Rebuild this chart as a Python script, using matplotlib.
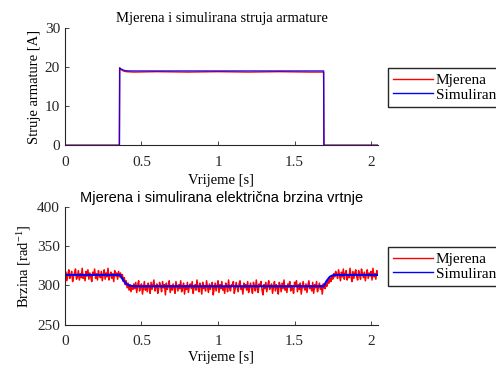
import matplotlib
matplotlib.use('Agg')

import numpy as np
import matplotlib.pyplot as plt

params = {
    "font.family": ["Liberation Serif", "DejaVu Serif"],
    "font.size": 10.5,
    "xtick.labelsize": 11,
    "ytick.labelsize": 11,
    "mathtext.fontset": "custom",
    "mathtext.rm": "Liberation Serif",
    "mathtext.it": "Liberation Serif:italic",
    "axes.linewidth": 0.8,
    "axes.edgecolor": "#262626",
    "xtick.direction": "in",
    "ytick.direction": "in",
    "xtick.color": "#262626",
    "ytick.color": "#262626",
    "xtick.major.size": 3,
    "ytick.major.size": 3,
    "xtick.major.width": 0.6,
    "ytick.major.width": 0.6,
    "xtick.major.pad": 7.5,
    "ytick.major.pad": 3.5,
}
plt.rcParams.update(params)

# armature current [A]
cur_t = [0, 0.355, 0.357, 0.365, 0.38, 0.40, 0.45, 0.6, 0.8, 1.0, 1.2, 1.4, 1.6, 1.69, 1.692, 2.05]
cur_meas = [0, 0, 19.8, 19.4, 19.0, 18.8, 18.7, 18.8, 18.7, 18.8, 18.7, 18.8, 18.7, 18.7, 0, 0]
cur_sim_t = [0, 0.356, 0.358, 0.37, 0.39, 0.42, 1.69, 1.692, 2.05]
cur_sim = [0, 0, 19.7, 19.4, 19.1, 19.0, 19.0, 0, 0]

# electrical speed, measured (sampled every 6.25 ms)
speed_meas = [
    310, 317, 306, 314, 320, 309, 313, 318, 305, 312, 316, 321, 308, 311, 319, 307, 315, 310, 322, 309,
    314, 306, 318, 312, 320, 308, 316, 311, 305, 317, 313, 321, 309, 315, 307, 319, 312, 310, 318, 306,
    314, 320, 308, 316, 311, 322, 307, 313, 317, 309, 315, 305, 319, 312, 316, 308, 318, 311,
    316, 309, 314, 305, 310, 301, 306, 297, 303, 294, 301, 292, 299, 295, 302,
    296, 304, 291, 300, 306, 293, 299, 302, 289, 297, 305, 294, 300, 292, 303, 298, 290, 304, 295, 301,
    307, 293, 298, 302, 290, 296, 304, 299, 292, 305, 297, 301, 288, 303, 295, 299, 306, 291, 300, 294,
    302, 297, 290, 305, 299, 293, 301, 296, 306, 292, 298, 303, 289, 300, 295, 304, 291, 299, 302, 296,
    305, 290, 298, 301, 294, 307, 297, 292, 303, 299, 289, 304, 296, 300, 293, 306, 298, 291, 302, 295,
    300, 304, 288, 297, 303, 293, 299, 306, 291, 301, 296, 305, 294, 298, 290, 303, 300, 292, 307, 297,
    293, 301, 299, 305, 290, 296, 304, 298, 292, 302, 306, 295, 299, 289, 303, 297, 301, 294, 305, 291,
    298, 303, 296, 290, 304, 300, 293, 307, 297, 291, 302, 299, 305, 294, 288, 301, 296, 304, 292, 300,
    306, 295, 299, 302, 290, 298, 305, 293, 301, 297, 289, 304, 300, 292, 303, 296, 307, 294, 299, 291,
    302, 298, 305, 293, 300, 296, 290, 304, 299, 306, 292, 301, 295, 303, 289, 298, 305, 297, 294, 302,
    291, 300, 306, 296, 299, 293, 304, 290, 301, 297, 305, 292, 298, 303, 295, 300, 289, 302, 297,
    296, 302, 299, 306, 303, 309, 305, 312, 308, 315, 311, 318, 314,
    309, 320, 313, 306, 317, 311, 321, 308, 315, 319, 307, 314, 310, 322, 312, 305, 318, 309, 316, 320,
    311, 307, 319, 313, 308, 321, 315, 310, 317, 306, 314, 320, 309, 316, 312, 318, 307, 322, 311, 315,
    308, 319, 313, 317,
]
speed_t = np.arange(len(speed_meas)) * 0.00625

speed_sim_t = [0, 0.36, 0.38, 0.40, 0.42, 0.45, 1.69, 1.71, 1.73, 1.75, 1.78, 2.05]
speed_sim = [313.5, 313.5, 307, 302, 300, 299, 299, 306, 311, 313, 313.5, 313.5]

xticks = [0, 0.5, 1, 1.5, 2]
xticklabels = ['0', '0.5', '1', '1.5', '2']

fig = plt.figure(figsize=(4.96, 3.66), dpi=100)

legend_kw = dict(loc='upper left', bbox_transform=fig.transFigure, fontsize=11,
                 fancybox=False, edgecolor='#262626', framealpha=1, handlelength=2.6,
                 borderpad=0.35, labelspacing=0.05, handletextpad=0.2, borderaxespad=0)

# --- current ---
ax1 = fig.add_axes([0.131, 0.603, 0.631, 0.321])
ax1.plot(cur_t, cur_meas, color='#ff0000', lw=1.0, label='Mjerena')
ax1.plot(cur_sim_t, cur_sim, color='#0000ff', lw=1.0, alpha=0.85, label='Simulirana')
ax1.set_xlim(0, 2.045)
ax1.set_ylim(0, 30)
ax1.set_yticks([0, 10, 20, 30])
ax1.set_xticks(xticks)
ax1.set_xticklabels(xticklabels)
ax1.set_title('Mjerena i simulirana struja armature', fontsize=10.5, pad=4)
ax1.set_xlabel('Vrijeme [s]', labelpad=3.5)
ax1.set_ylabel('Struje armature [A]', labelpad=3)
for s in ['top', 'right']:
    ax1.spines[s].set_visible(False)
leg = ax1.legend(bbox_to_anchor=(0.782, 0.814), **legend_kw)
for ln in leg.get_lines():
    ln.set_linewidth(1.0)
    ln.set_alpha(1)

# --- speed ---
ax2 = fig.add_axes([0.131, 0.113, 0.631, 0.321])
ax2.plot(speed_t, speed_meas, color='#ff0000', lw=1.1, label='Mjerena')
ax2.plot(speed_sim_t, speed_sim, color='#0000ff', lw=1.5, label='Simulirana')
ax2.set_xlim(0, 2.045)
ax2.set_ylim(250, 400)
ax2.set_yticks([250, 300, 350, 400])
ax2.set_xticks(xticks)
ax2.set_xticklabels(xticklabels)
ax2.set_title('Mjerena i simulirana električna brzina vrtnje', fontsize=10.5, pad=4,
              family=['Liberation Sans', 'DejaVu Sans'])
ax2.set_xlabel('Vrijeme [s]', labelpad=2)
ax2.set_ylabel(r'Brzina [rad$^{\mathrm{-1}}$]', labelpad=3)
for s in ['top', 'right']:
    ax2.spines[s].set_visible(False)
leg = ax2.legend(bbox_to_anchor=(0.782, 0.325), **legend_kw)
for ln in leg.get_lines():
    ln.set_linewidth(1.0)

plt.savefig('out.png', dpi=100)
